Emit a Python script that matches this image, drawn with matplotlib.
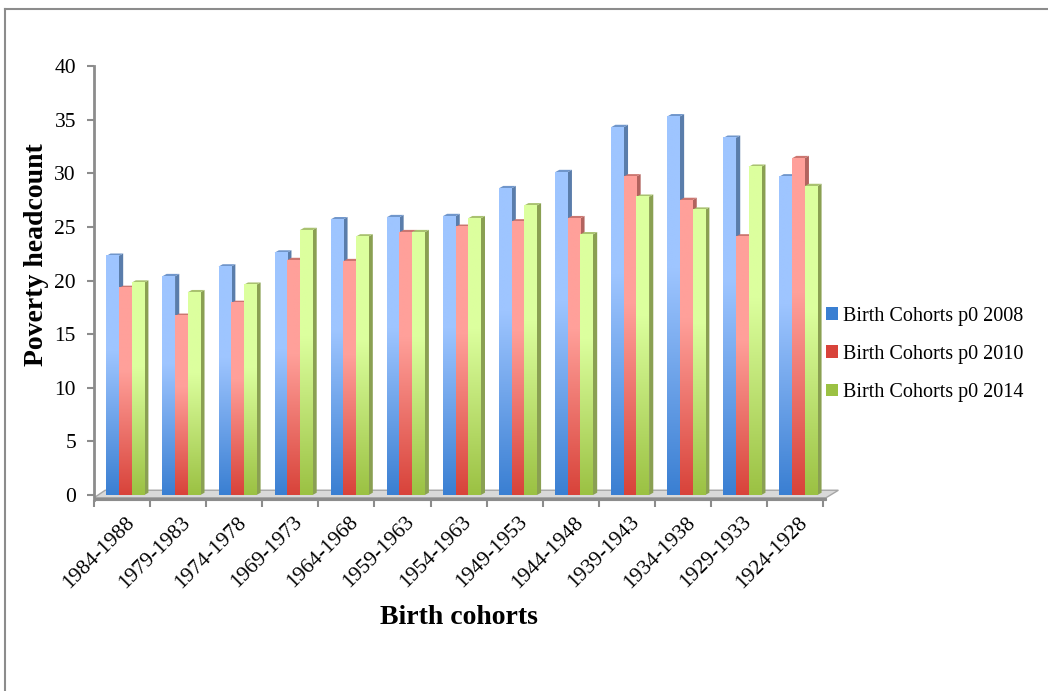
import matplotlib.pyplot as plt
import numpy as np
from matplotlib.colors import LinearSegmentedColormap
from matplotlib.patches import Polygon, Patch
from matplotlib.lines import Line2D

cohorts = ["1984-1988", "1979-1983", "1974-1978", "1969-1973", "1964-1968",
           "1959-1963", "1954-1963", "1949-1953", "1944-1948", "1939-1943",
           "1934-1938", "1929-1933", "1924-1928"]
p0_2008 = [22.3, 20.4, 21.3, 22.6, 25.7, 25.9, 26.0, 28.6, 30.1, 34.3, 35.3, 33.3, 29.7]
p0_2010 = [19.3, 16.7, 17.9, 21.9, 21.8, 24.5, 25.0, 25.5, 25.8, 29.7, 27.5, 24.1, 31.4]
p0_2014 = [19.8, 18.9, 19.6, 24.7, 24.1, 24.5, 25.8, 27.0, 24.3, 27.8, 26.6, 30.6, 28.8]
series_names = ["Birth Cohorts p0 2008", "Birth Cohorts p0 2010", "Birth Cohorts p0 2014"]

# (dark bottom, light top, side face, top cap)
palette = [
    ("#3a7fd2", "#9ec5ff", "#5a7dab", "#7096cb"),
    ("#d8433a", "#ffa09a", "#b2635e", "#cc7670"),
    ("#9bc143", "#dcff9e", "#8aa052", "#a9c270"),
]

serif = "Liberation Serif"
fig = plt.figure(figsize=(10.48, 6.91), dpi=100)
ax = fig.add_axes([0.0897, 0.2758, 0.7119, 0.6287])

bar_w = 0.225
off0 = 0.22
dx, dy = 0.075, 0.22
n = len(cohorts)

# floor slab
ax.add_patch(Polygon([(0, -0.25), (n + 0.05, -0.25), (n + 0.27, 0.45), (0.2, 0.45)],
                     closed=True, facecolor="#d9d9d9", edgecolor="#a6a6a6", lw=1.0,
                     zorder=1, clip_on=False))
ax.add_patch(Polygon([(0, -0.25), (n + 0.05, -0.25), (n + 0.05, -0.5), (0, -0.5)],
                     closed=True, facecolor="#8c8c8c", edgecolor="#8c8c8c", lw=0.8,
                     zorder=1, clip_on=False))

grad = np.linspace(0, 1, 256).reshape(-1, 1)
for s, vals in enumerate([p0_2008, p0_2010, p0_2014]):
    dark, light, side, cap = palette[s]
    cmap = LinearSegmentedColormap.from_list(f"g{s}", [(0, dark), (0.6, light), (1, light)])
    for i, h in enumerate(vals):
        x0 = i + off0 + s * bar_w
        x1 = x0 + bar_w
        z = 3 + s
        ax.add_patch(Polygon([(x1, 0), (x1 + dx, dy), (x1 + dx, h + dy), (x1, h)],
                             closed=True, facecolor=side, edgecolor="none", zorder=z))
        ax.add_patch(Polygon([(x0, h), (x0 + dx, h + dy), (x1 + dx, h + dy), (x1, h)],
                             closed=True, facecolor=cap, edgecolor="none", zorder=z))
        ax.imshow(grad, cmap=cmap, origin="lower", aspect="auto",
                  extent=[x0, x1, 0, h], interpolation="bilinear", zorder=z)

ax.set_xlim(0, 13.3)
ax.set_ylim(-0.5, 40)

for sp in ["top", "right", "bottom"]:
    ax.spines[sp].set_visible(False)
ax.spines["left"].set_color("#8c8c8c")
ax.spines["left"].set_linewidth(2)
ax.spines["left"].set_bounds(-0.5, 40)

ax.set_yticks(range(0, 41, 5))
ax.set_yticklabels([str(v) for v in range(0, 41, 5)], fontfamily=serif, fontsize=15.5)
ax.tick_params(axis="y", length=5, width=1.5, color="#8c8c8c", pad=8)

ax.set_xticks(range(0, n + 1))
ax.set_xticklabels([])
ax.tick_params(axis="x", length=5, width=1.5, color="#8c8c8c")
ax.set_xticks([i + 0.55 for i in range(n)], minor=True)
ax.set_xticklabels(cohorts, minor=True, rotation=45, ha="right", va="top",
                   rotation_mode="anchor", fontfamily=serif, fontsize=15.5)
ax.tick_params(axis="x", which="minor", length=0, pad=9)

fig.text(37 / 1048, 1 - 255 / 691, "Poverty headcount", fontfamily=serif,
         fontweight="bold", fontsize=20, rotation=90, ha="center", va="center")
fig.text(459 / 1048, 1 - 617 / 691, "Birth cohorts", fontfamily=serif, fontweight="bold",
         fontsize=20, ha="center", va="center")

handles = [Patch(facecolor=palette[k][0], edgecolor="none") for k in range(3)]
fig.legend(handles, series_names, loc="center left", bbox_to_anchor=(0.775, 0.487),
           frameon=False, prop={"family": serif, "size": 14.5}, labelspacing=0.95,
           handlelength=0.6, handleheight=0.6, handletextpad=0.25, borderpad=0.2)

# outer frame of the chart area
fig.add_artist(Line2D([5 / 1048, 5 / 1048], [0, 1 - 9 / 691], color="#8c8c8c", lw=1.5))
fig.add_artist(Line2D([5 / 1048, 1], [1 - 9 / 691, 1 - 9 / 691], color="#8c8c8c", lw=1.5))

fig.savefig("out.png", dpi=100)
